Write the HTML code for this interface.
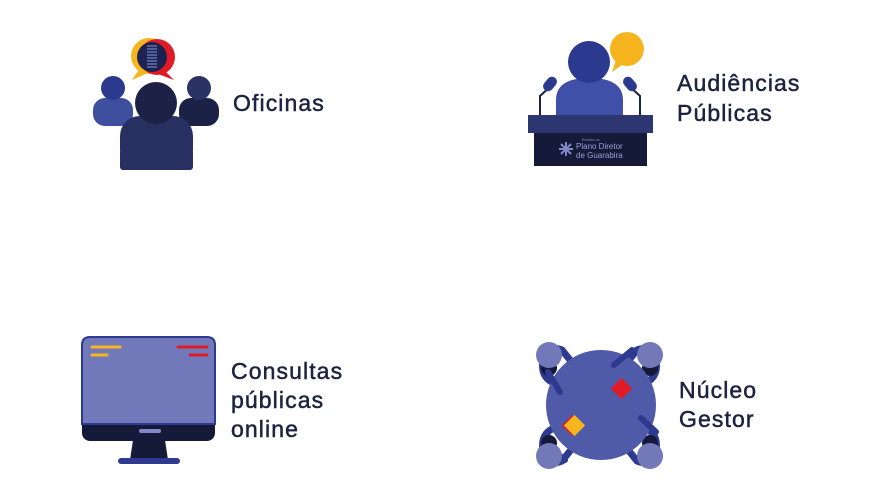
<!DOCTYPE html>
<html><head><meta charset="utf-8"><style>
html,body{margin:0;padding:0;background:#fff;}
svg{display:block}
text{font-family:"Liberation Sans",sans-serif;fill:#1c2340;font-size:23px;letter-spacing:1.1px;stroke:#1c2340;stroke-width:0.5}
text.s{letter-spacing:0;stroke:none}
</style></head><body>
<svg width="892" height="501" viewBox="0 0 892 501" xmlns="http://www.w3.org/2000/svg">
<!-- Oficinas -->
<path d="M140 68 L132 80 L150 72 Z" fill="#f6b51f"/>
<path d="M164 70 L174 80 L158 74 Z" fill="#e11b25"/>
<circle cx="149" cy="56" r="18" fill="#f6b51f"/>
<circle cx="157" cy="57" r="18" fill="#e11b25"/>
<circle cx="152" cy="57" r="15" fill="#1c2350"/>
<g stroke="#7c84c8" stroke-width="1.2">
<line x1="147" y1="46" x2="157" y2="46"/><line x1="147" y1="49" x2="157" y2="49"/><line x1="147" y1="52" x2="157" y2="52"/><line x1="147" y1="55" x2="157" y2="55"/><line x1="147" y1="58" x2="157" y2="58"/><line x1="147" y1="61" x2="157" y2="61"/><line x1="147" y1="64" x2="157" y2="64"/><line x1="147" y1="67" x2="157" y2="67"/></g>
<rect x="93" y="98" width="40" height="28" rx="12" fill="#3f4fa0"/>
<circle cx="113" cy="88" r="12" fill="#2b3a8f"/>
<rect x="179" y="98" width="40" height="28" rx="12" fill="#1c2245"/>
<circle cx="199" cy="88" r="12" fill="#2b3264"/>
<rect x="120" y="116" width="73" height="54" rx="20" fill="#283062"/>
<rect x="120" y="150" width="73" height="20" rx="3" fill="#283062"/>
<circle cx="156" cy="103" r="21" fill="#1c2245"/>
<text x="233" y="111">Oficinas</text>

<!-- Audiencias -->
<path d="M616 60 L612 72 L626 62 Z" fill="#f6b51f"/>
<circle cx="627" cy="49" r="17" fill="#f6b51f"/>
<g stroke="#1c2245" stroke-width="2" fill="none">
<path d="M552 85 L540 96 L540 116"/><path d="M628 85 L640 96 L640 116"/></g>
<rect x="545" y="76" width="10" height="16" rx="5" fill="#2b3a8f" transform="rotate(40 550 84)"/>
<rect x="625" y="76" width="10" height="16" rx="5" fill="#2b3a8f" transform="rotate(-40 630 84)"/>
<path d="M556 118 L556 100 Q556 78 589 78 Q623 78 623 100 L623 118 Z" fill="#4050a8"/>
<circle cx="589" cy="62" r="21" fill="#2b3a8f"/>
<rect x="528" y="115" width="125" height="18" fill="#2d3670"/>
<rect x="534" y="133" width="113" height="33" fill="#141a38"/>
<text class="s" x="582" y="141" style="font-size:3.5px;fill:#8088c8">Revisão do</text>
<text class="s" x="576" y="149" style="font-size:8px;fill:#9aa0d8">Plano Diretor</text>
<text class="s" x="576" y="158" style="font-size:8px;fill:#9aa0d8">de Guarabira</text>
<g stroke="#8088c8" stroke-width="2"><line x1="559" y1="149" x2="573" y2="149"/><line x1="566" y1="142" x2="566" y2="156"/><line x1="561" y1="144" x2="571" y2="154"/><line x1="571" y1="144" x2="561" y2="154"/></g>
<text x="677" y="91">Audiências</text>
<text x="677" y="121">Públicas</text>

<!-- Consultas -->
<rect x="82" y="337" width="133" height="104" rx="8" fill="#141a38"/>
<path d="M82 424 L82 345 Q82 337 90 337 L207 337 Q215 337 215 345 L215 424 Z" fill="#7179bb" stroke="#2d3a8f" stroke-width="2"/>
<rect x="139" y="429" width="22" height="4" rx="2" fill="#8088c8"/>
<path d="M133 440 L165 440 L168 460 L130 460 Z" fill="#141a38"/>
<rect x="118" y="458" width="62" height="6" rx="3" fill="#2d3a8f"/>
<g stroke-width="3" stroke-linecap="round"><line x1="92" y1="347" x2="120" y2="347" stroke="#f6b51f"/><line x1="92" y1="355" x2="107" y2="355" stroke="#f6b51f"/><line x1="178" y1="347" x2="207" y2="347" stroke="#e11b25"/><line x1="190" y1="355" x2="207" y2="355" stroke="#e11b25"/></g>
<text x="231" y="379">Consultas</text>
<text x="231" y="408">públicas</text>
<text x="231" y="437">online</text>

<!-- Nucleo -->
<g fill="none" stroke-linecap="round">
<path d="M544 362 Q548 344 562 350 L570 360" stroke="#2d3a8f" stroke-width="7"/>
<path d="M543 360 Q540 378 556 384" stroke="#2d3a8f" stroke-width="7"/>
<path d="M655 362 Q651 344 637 350 L629 360" stroke="#2d3a8f" stroke-width="7"/>
<path d="M656 360 Q659 378 643 384" stroke="#2d3a8f" stroke-width="7"/>
<path d="M544 449 Q548 467 562 461 L570 451" stroke="#2d3a8f" stroke-width="7"/>
<path d="M543 451 Q540 433 556 427" stroke="#2d3a8f" stroke-width="7"/>
<path d="M655 449 Q651 467 637 461 L629 451" stroke="#2d3a8f" stroke-width="7"/>
<path d="M656 451 Q659 433 643 427" stroke="#2d3a8f" stroke-width="7"/>
</g>
<circle cx="549" cy="368" r="8" fill="#141a38"/><circle cx="650" cy="368" r="8" fill="#141a38"/><circle cx="549" cy="443" r="8" fill="#141a38"/><circle cx="650" cy="443" r="8" fill="#141a38"/>
<circle cx="601" cy="405" r="55" fill="#4f5ba8"/>
<g stroke="#2d3a8f" stroke-width="6" stroke-linecap="round">
<line x1="548" y1="372" x2="560" y2="392"/><line x1="614" y1="365" x2="632" y2="350"/><line x1="641" y1="418" x2="656" y2="432"/><line x1="565" y1="460" x2="549" y2="447"/></g>
<circle cx="549" cy="355" r="13" fill="#7379b8"/><circle cx="650" cy="355" r="13" fill="#7379b8"/><circle cx="549" cy="456" r="13" fill="#7379b8"/><circle cx="650" cy="456" r="13" fill="#7379b8"/>
<rect x="614" y="381" width="15" height="15" fill="#e11b25" transform="rotate(45 621.5 388.5)"/>
<rect x="565" y="418" width="15" height="15" fill="#e11b25" transform="rotate(45 572.5 425.5)"/>
<rect x="567" y="418" width="15" height="15" fill="#f6b51f" transform="rotate(45 574.5 425.5)"/>
<text x="679" y="398">Núcleo</text>
<text x="679" y="427">Gestor</text>
</svg>
</body></html>
